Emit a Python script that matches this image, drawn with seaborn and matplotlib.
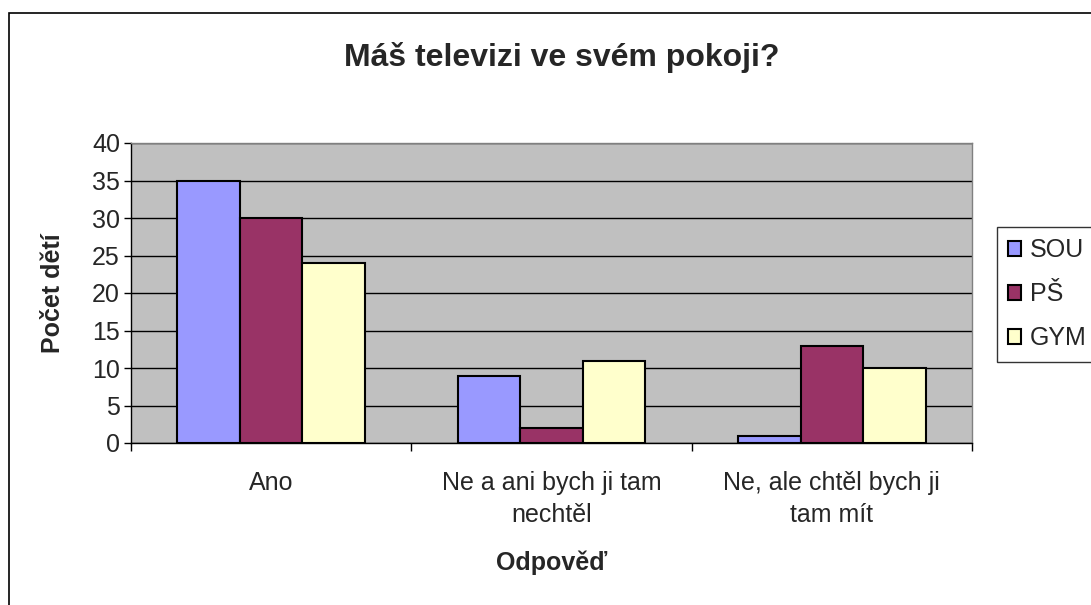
import pandas as pd
import seaborn as sns
import matplotlib.pyplot as plt
from matplotlib.patches import Rectangle

# ----------------------------
# DATA
# ----------------------------
categories = ["Ano", "Ne a ani bych ji tam\nnechtěl", "Ne, ale chtěl bych ji\ntam mít"]
groups = ["SOU", "PŠ", "GYM"]
sou = [35, 9, 1]
ps = [30, 2, 13]
gym = [24, 11, 10]
yticks = [0, 5, 10, 15, 20, 25, 30, 35, 40]

colors = ["#9999FF", "#993366", "#FFFFCC"]

df = pd.DataFrame({
    "Odpověď": categories * 3,
    "Škola": [g for g in groups for _ in categories],
    "Počet": sou + ps + gym,
})

W, H = 1091, 605

# ----------------------------
# PLOT
# ----------------------------
sns.set_style("white")
plt.rcParams["font.family"] = ["Liberation Sans", "DejaVu Sans"]

fig = plt.figure(figsize=(W / 100, H / 100), dpi=100)
ax = fig.add_axes([131 / W, 1 - 443 / H, (972 - 131) / W, 300 / H])
ax.set_facecolor("#C0C0C0")

sns.barplot(data=df, x="Odpověď", y="Počet", hue="Škola", palette=colors,
            width=0.67, edgecolor="black", linewidth=1.5, saturation=1,
            gap=0, ax=ax, zorder=3)

ax.set_ylim(0, 40)
ax.set_xlim(-0.5, 2.5)
ax.set_yticks(yticks)
ax.yaxis.grid(True, color="black", linewidth=1, zorder=0)
ax.set_axisbelow(True)

for side in ["top", "right"]:
    ax.spines[side].set_color("#808080")
    ax.spines[side].set_linewidth(1)
for side in ["left", "bottom"]:
    ax.spines[side].set_color("black")
    ax.spines[side].set_linewidth(1)

ax.tick_params(axis="y", length=5, width=1, color="black", labelsize=18, left=True, pad=3)
ax.set_xticks([0, 1, 2])
ax.set_xticklabels(categories, fontsize=18, linespacing=1.45)
ax.tick_params(axis="x", length=0, pad=20)
# category separator ticks
ax.set_xticks([-0.5, 0.5, 1.5, 2.5], minor=True)
ax.tick_params(axis="x", which="minor", length=6, width=1, color="black", bottom=True)

ax.set_xlabel("Odpověď", fontsize=18, fontweight="bold", va="center")
ax.xaxis.set_label_coords(0.5, (443 - 563) / 300)
ax.set_ylabel("Počet dětí", fontsize=18, fontweight="bold", va="center")
ax.yaxis.set_label_coords((53 - 131) / 841, 0.5)

fig.text(562 / W, 1 - 66 / H, "Máš televizi ve svém pokoji?",
         ha="center", va="baseline", fontsize=23, fontweight="bold")

leg = ax.legend(loc="upper left", bbox_to_anchor=(997 / W, 1 - 227 / H),
                bbox_transform=fig.transFigure, frameon=True, fancybox=False,
                edgecolor="black", fontsize=18, handlelength=0.5, handleheight=0.5,
                handletextpad=0.35, borderpad=0.45, labelspacing=0.8,
                borderaxespad=0)
leg.get_frame().set_linewidth(1)

# outer chart border
fig.patches.append(Rectangle((9 / W, -0.1), 1.1, 1 - 13 / H + 0.1,
                             transform=fig.transFigure, fill=False,
                             edgecolor="black", linewidth=1.2))

fig.savefig("out.png", dpi=100)
